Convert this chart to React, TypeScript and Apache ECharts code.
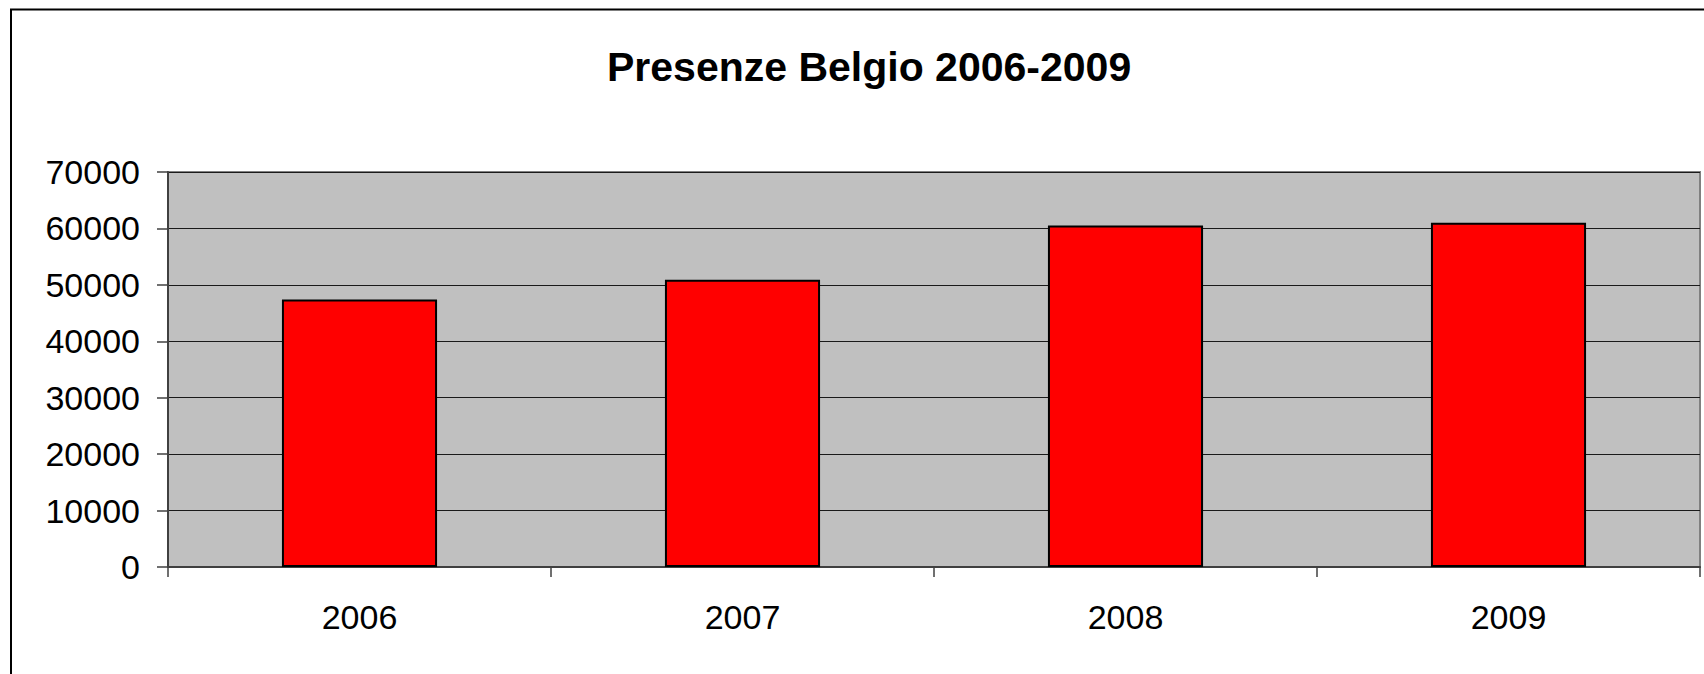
import React, { useEffect, useRef } from "react";
import * as echarts from "echarts";

const titleText = "Presenze Belgio 2006-2009";
const years = ["2006", "2007", "2008", "2009"];
const presenze = [47400, 50900, 60500, 61000];
const yMin = 0;
const yMax = 70000;
const yStep = 10000;

export default function App() {
  const ref = useRef<HTMLDivElement>(null);

  useEffect(() => {
    if (!ref.current) return;
    const chart = echarts.init(ref.current, null, { renderer: "svg" });
    const font = "'Liberation Sans', Arial, sans-serif";
    chart.setOption({
      animation: false,
      backgroundColor: "#ffffff",
      title: {
        text: titleText,
        left: 607,
        top: 46,
        padding: 0,
        textStyle: {
          fontFamily: font,
          fontSize: 41,
          fontWeight: "bold",
          color: "#000000",
        },
      },
      graphic: [
        {
          type: "rect",
          shape: { x: 11, y: 9.5, width: 1720, height: 700 },
          style: { fill: "none", stroke: "#000000", lineWidth: 2 },
          silent: true,
          z: -10,
        },
      ],
      grid: {
        left: 168,
        top: 172,
        right: 4,
        bottom: 107,
        show: true,
        backgroundColor: "#C0C0C0",
        borderColor: "#808080",
        borderWidth: 2,
      },
      xAxis: {
        type: "category",
        data: years,
        boundaryGap: true,
        axisLine: { show: true, lineStyle: { color: "#404040", width: 2 } },
        axisTick: {
          show: true,
          length: 10,
          alignWithLabel: false,
          lineStyle: { color: "#404040", width: 1.5 },
        },
        axisLabel: {
          margin: 33,
          fontFamily: font,
          fontSize: 34,
          color: "#000000",
        },
        splitLine: { show: false },
      },
      yAxis: {
        type: "value",
        min: yMin,
        max: yMax,
        interval: yStep,
        axisLine: { show: true, lineStyle: { color: "#404040", width: 2 } },
        axisTick: {
          show: true,
          length: 11,
          lineStyle: { color: "#404040", width: 1.5 },
        },
        axisLabel: {
          margin: 28,
          fontFamily: font,
          fontSize: 34,
          color: "#000000",
          formatter: (v: number) => String(v),
        },
        splitLine: { show: true, lineStyle: { color: "#1a1a1a", width: 1.2 } },
      },
      series: [
        {
          type: "bar",
          data: presenze,
          barWidth: "40.5%",
          itemStyle: {
            color: "#FF0000",
            borderColor: "#000000",
            borderWidth: 2,
          },
        },
      ],
    });
    return () => chart.dispose();
  }, []);

  return (
    <div
      ref={ref}
      style={{ position: "fixed", left: 0, top: 0, width: 1704, height: 674 }}
    />
  );
}
